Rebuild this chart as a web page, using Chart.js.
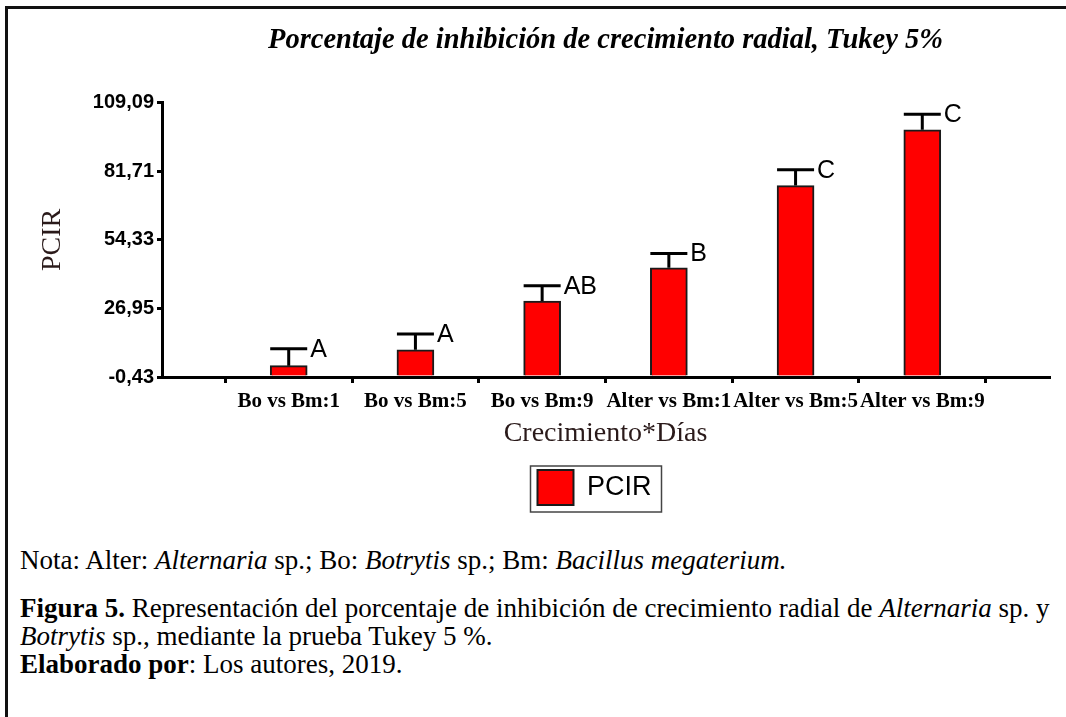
<!DOCTYPE html>
<html>
<head>
<meta charset="utf-8">
<script src="https://cdn.jsdelivr.net/npm/chart.js@4.4.1/dist/chart.umd.min.js"></script>
<style>
  html, body { margin: 0; padding: 0; background: #fff; }
  body { width: 1066px; height: 717px; position: relative; overflow: hidden;
         font-family: "Liberation Serif", "Times New Roman", serif; color: #000; }
  #frame { position: absolute; left: 5px; top: 6px; right: -10px; bottom: -10px;
           border-top: 3px solid #111; border-left: 3px solid #111; }
  #wrap { position: absolute; left: 8px; top: 9px; width: 1058px; height: 506px; }
  .cap { position: absolute; left: 20px; font-size: 27px; line-height: 28px; white-space: nowrap; }
</style>
</head>
<body>
<div id="frame"></div>
<div id="wrap"><canvas id="chart"></canvas></div>
<div class="cap" style="top:546px">Nota: Alter: <i>Alternaria</i> sp.; Bo: <i>Botrytis</i> sp.; Bm: <i>Bacillus megaterium.</i></div>
<div class="cap" style="top:594px"><b>Figura 5.</b> Representación del porcentaje de inhibición de crecimiento radial de <i>Alternaria</i> sp. y<br><i>Botrytis</i> sp., mediante la prueba Tukey 5 %.<br><b>Elaborado por</b>: Los autores, 2019.</div>

<script>
const categories = ['Bo vs Bm:1', 'Bo vs Bm:5', 'Bo vs Bm:9', 'Alter vs Bm:1', 'Alter vs Bm:5', 'Alter vs Bm:9'];
const pcir = [4.08, 10.46, 29.90, 43.20, 76.00, 98.25];
const errUp = [6.8, 6.3, 6.1, 5.7, 6.3, 6.2];
const tukey = ['A', 'A', 'AB', 'B', 'C', 'C'];
const yTicks = [-0.43, 26.95, 54.33, 81.71, 109.09];

// empty slots either side so the axis runs one step past the first and last bar
const labels = ['', ...categories, ''];
const values = [null, ...pcir, null];

Chart.defaults.font.family = '"Liberation Sans", Arial, sans-serif';

const tukeyBars = {
  id: 'tukeyBars',
  afterDatasetsDraw(chart) {
    const { ctx, scales: { x, y } } = chart;
    const meta = chart.getDatasetMeta(0);
    ctx.save();
    ctx.strokeStyle = '#000';
    ctx.lineWidth = 3;
    ctx.fillStyle = '#000';
    ctx.font = '25px "Liberation Sans", Arial, sans-serif';
    ctx.textBaseline = 'middle';
    pcir.forEach((v, i) => {
      const half = meta.data[i + 1].width / 2;
      const cx = x.getPixelForValue(i + 1);
      const top = y.getPixelForValue(v);
      const cap = y.getPixelForValue(v + errUp[i]);
      ctx.beginPath();
      ctx.moveTo(cx, top);
      ctx.lineTo(cx, cap);
      ctx.moveTo(cx - half, cap);
      ctx.lineTo(cx + half, cap);
      ctx.stroke();
      ctx.fillText(tukey[i], cx + half + 3, cap + 1);
    });
    ctx.restore();
  }
};

// the original legend sits a little left of the plot centre, and has a frame
const legendFrame = {
  id: 'legendFrame',
  afterUpdate(chart) {
    const lg = chart.legend;
    lg.left -= 11;
    lg.right -= 11;
    lg.legendHitBoxes.forEach((h) => { h.left -= 11; });
  },
  afterDraw(chart) {
    const hb = chart.legend.legendHitBoxes[0];
    if (!hb) return;
    const { ctx } = chart;
    ctx.save();
    ctx.strokeStyle = '#444';
    ctx.lineWidth = 1.5;
    ctx.strokeRect(hb.left - 7, hb.top - 4, hb.width + 17, hb.height + 11);
    ctx.restore();
  }
};

const axisGrid = { display: true, drawOnChartArea: false, color: '#000', lineWidth: 3, tickWidth: 3 };

new Chart(document.getElementById('chart'), {
  type: 'bar',
  data: {
    labels: labels,
    datasets: [{
      label: 'PCIR',
      data: values,
      base: yTicks[0],
      backgroundColor: '#ff0000',
      borderColor: '#1a1a1a',
      borderWidth: 2,
      barThickness: 37
    }]
  },
  options: {
    responsive: true,
    maintainAspectRatio: false,
    animation: false,
    events: [],
    layout: { padding: { left: 0, right: 17, top: 0, bottom: 0 } },
    plugins: {
      title: {
        display: true,
        fullSize: false,
        text: 'Porcentaje de inhibición de crecimiento radial, Tukey 5%',
        color: '#000',
        font: { family: '"Liberation Serif", "Times New Roman", serif', size: 28.5, weight: 'bold', style: 'italic' },
        padding: { top: 15, bottom: 44.5 }
      },
      legend: {
        position: 'bottom',
        fullSize: false,
        labels: {
          boxWidth: 36,
          boxHeight: 35,
          color: '#000',
          font: { size: 27 },
          padding: 10
        }
      },
      tooltip: { enabled: false }
    },
    scales: {
      x: {
        offset: false,
        grid: { ...axisGrid, tickLength: 6 },
        border: { color: '#000', width: 3 },
        ticks: {
          color: '#000',
          autoSkip: false,
          maxRotation: 0,
          padding: 6,
          font: { family: '"Liberation Serif", "Times New Roman", serif', size: 21, weight: 'bold' }
        },
        title: {
          display: true,
          text: 'Crecimiento*Días',
          color: '#2a1a1a',
          font: { family: '"Liberation Serif", "Times New Roman", serif', size: 28 },
          padding: { top: 0, bottom: 10 }
        },
        afterFit: (s) => { s.height = 83; }
      },
      y: {
        min: yTicks[0],
        max: yTicks[yTicks.length - 1],
        afterBuildTicks: (s) => { s.ticks = yTicks.map((v) => ({ value: v })); },
        grid: { ...axisGrid, tickLength: 5 },
        border: { color: '#000', width: 3 },
        ticks: {
          color: '#000',
          padding: 3,
          font: { size: 20, weight: 'bold' },
          callback: (v) => Number(v).toFixed(2).replace('.', ',')
        },
        title: {
          display: true,
          text: 'PCIR',
          color: '#2a1a1a',
          font: { family: '"Liberation Serif", "Times New Roman", serif', size: 28 },
          padding: { top: 28, bottom: 0 }
        },
        afterFit: (s) => { s.width = 154; }
      }
    }
  },
  plugins: [tukeyBars, legendFrame]
});
</script>
</body>
</html>
